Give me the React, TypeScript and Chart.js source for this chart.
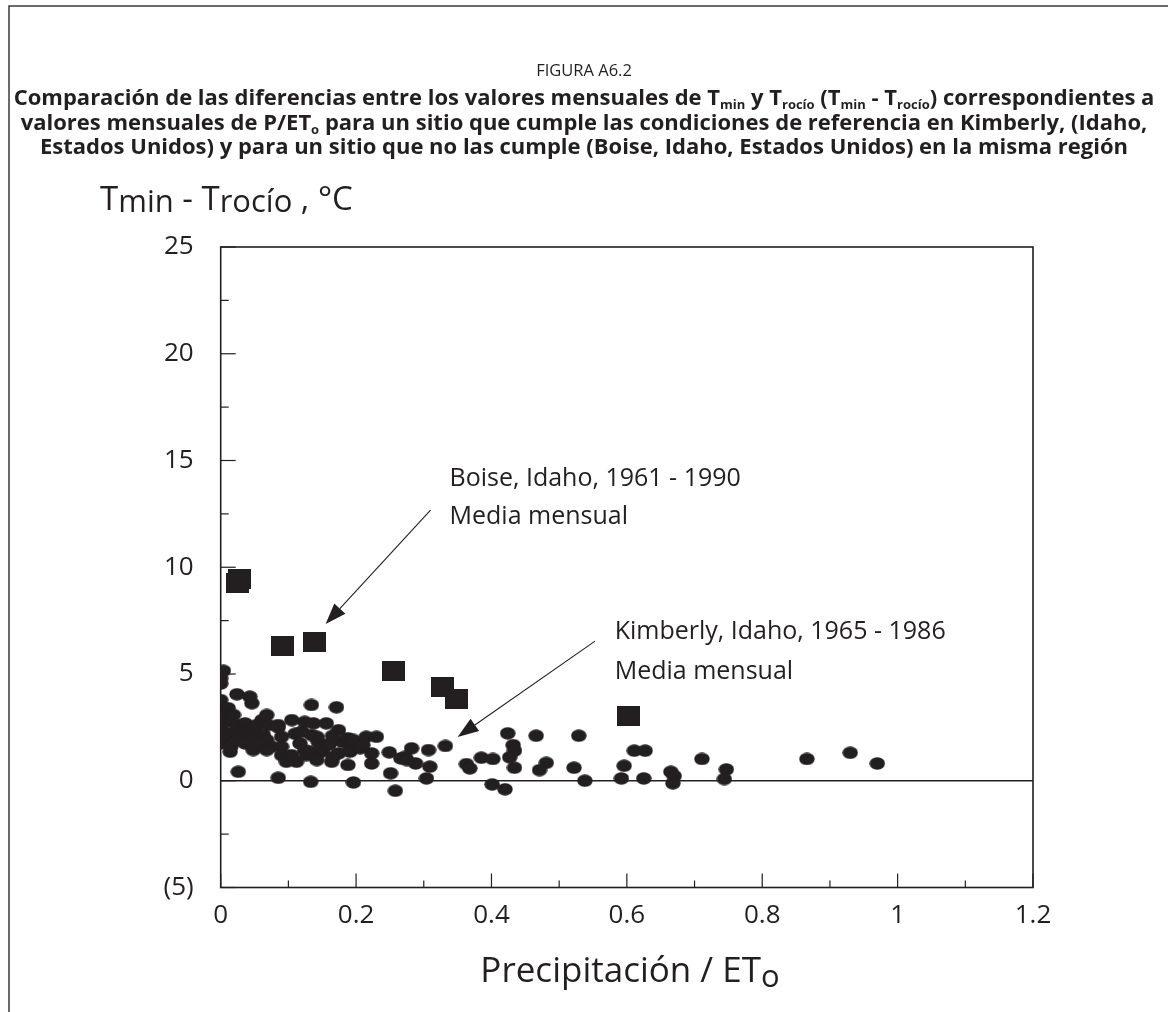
import React, { useEffect, useRef } from "react";
import { Chart, registerables } from "chart.js";

Chart.register(...registerables);

const INK = "#231f20";
const FONT = '"Open Sans", "Noto Sans", sans-serif';

// ---------- data ----------
// Kimberly, Idaho, 1965-1986 (monthly means): [P/ETo, Tmin - Tdew]
const kimberlyPoints: [number, number][] = [
  [0.004, 5.15], [0.0, 4.8], [0.0, 4.55], [0.0, 3.78], [0.0, 3.4], [0.011, 3.4], [0.004, 3.1], [0.0, 2.95],
  [0.012, 2.8], [0.0, 2.6], [0.0, 2.45], [0.009, 2.15], [0.005, 2.0], [0.0, 1.75], [0.014, 1.36], [0.015, 1.6],
  [0.024, 4.05], [0.043, 3.94], [0.046, 3.63], [0.019, 3.08], [0.024, 2.61], [0.036, 2.69], [0.03, 2.4], [0.02, 2.3],
  [0.036, 2.22], [0.045, 2.0], [0.026, 1.91], [0.036, 1.75], [0.048, 1.44], [0.026, 0.42],
  [0.053, 2.61], [0.051, 2.45], [0.061, 2.84], [0.068, 3.08], [0.07, 2.61], [0.063, 2.14], [0.068, 1.91], [0.058, 1.7],
  [0.075, 1.6], [0.068, 1.44], [0.085, 2.61], [0.085, 2.5], [0.09, 2.06], [0.09, 1.59], [0.09, 1.2], [0.097, 0.89], [0.085, 0.14],
  [0.105, 2.84], [0.11, 2.2], [0.112, 0.89], [0.105, 1.2], [0.117, 1.75], [0.124, 1.44], [0.12, 2.3], [0.124, 2.76],
  [0.127, 1.2], [0.134, 3.55], [0.134, 2.14], [0.137, 2.69], [0.142, 2.06], [0.144, 1.83], [0.134, 1.36], [0.149, 1.36],
  [0.142, 0.97], [0.133, -0.05], [0.151, 1.52],
  [0.156, 2.69], [0.171, 3.44], [0.174, 2.37], [0.179, 1.83], [0.165, 2.1], [0.16, 1.7], [0.164, 0.89], [0.166, 1.12],
  [0.174, 1.28], [0.188, 1.99], [0.188, 0.74], [0.191, 1.52], [0.191, 1.36], [0.196, 1.91], [0.196, -0.08],
  [0.206, 1.52], [0.21, 1.67], [0.215, 2.06], [0.23, 2.06], [0.223, 1.28], [0.223, 0.81], [0.249, 1.33], [0.251, 0.35],
  [0.258, -0.47], [0.266, 1.05], [0.272, 1.12], [0.282, 1.52], [0.288, 0.81], [0.275, 0.97],
  [0.307, 1.44], [0.309, 0.66], [0.304, 0.11], [0.332, 1.63], [0.363, 0.78], [0.368, 0.58], [0.385, 1.08], [0.402, 1.02],
  [0.401, -0.17], [0.42, -0.4],
  [0.424, 2.22], [0.432, 1.67], [0.434, 1.41], [0.427, 1.1], [0.434, 0.61], [0.466, 2.11], [0.481, 0.84], [0.471, 0.5],
  [0.529, 2.11], [0.522, 0.61], [0.538, 0.0], [0.596, 0.7], [0.592, 0.11], [0.611, 1.41], [0.627, 1.41], [0.625, 0.11],
  [0.665, 0.42], [0.67, 0.22], [0.668, -0.12], [0.711, 1.02], [0.747, 0.53], [0.744, 0.08], [0.866, 1.02], [0.93, 1.31],
  [0.97, 0.81],
];

// Boise, Idaho, 1961-1990 (monthly means)
const boisePoints: [number, number][] = [
  [0.025, 9.25], [0.028, 9.45], [0.092, 6.3], [0.139, 6.5], [0.256, 5.15], [0.327, 4.4], [0.348, 3.85], [0.603, 3.05],
];

const xRange = [0, 1.2];
const yRange = [-5, 25];
const xTickStep = 0.1;
const yTickStep = 2.5;

// ---------- text ----------
type Seg = [string, boolean?];
const titleCaption = "FIGURA A6.2";
const titleLines: Seg[][] = [
  [["Comparación de las diferencias entre los valores mensuales de T"], ["min", true], [" y T"], ["rocío", true], [" (T"], ["min", true], [" - T"], ["rocío", true], [") correspondientes a"]],
  [["valores mensuales de P/ET"], ["o", true], [" para un sitio que cumple las condiciones de referencia en Kimberly, (Idaho,"]],
  [["Estados Unidos) y para un sitio que no las cumple (Boise, Idaho, Estados Unidos) en la misma región"]],
];
const yTitle: Seg[] = [["T"], ["min", true], [" - T"], ["rocío", true], [" , °C"]];
const xTitle: Seg[] = [["Precipitación / ET"], ["o", true]];

const annotations = [
  { lines: ["Boise, Idaho, 1961 - 1990", "Media mensual"], x: 0.338, y: [13.8, 12.03], from: [0.31, 12.68], to: [0.155, 7.34] },
  { lines: ["Kimberly, Idaho, 1965 - 1986", "Media mensual"], x: 0.582, y: [6.64, 4.76], from: [0.553, 6.54], to: [0.35, 2.05] },
];

function drawRich(
  ctx: CanvasRenderingContext2D, segs: Seg[], x: number, y: number, align: "left" | "center",
  size: number, subSize: number, subDy: number, weight: string
) {
  const fMain = `${weight} ${size}px ${FONT}`;
  const fSub = `${weight} ${subSize}px ${FONT}`;
  let w = 0;
  for (const [t, sub] of segs) {
    ctx.font = sub ? fSub : fMain;
    w += ctx.measureText(t).width;
  }
  let cx = align === "center" ? x - w / 2 : x;
  ctx.textAlign = "left";
  ctx.textBaseline = "alphabetic";
  for (const [t, sub] of segs) {
    ctx.font = sub ? fSub : fMain;
    ctx.fillText(t, cx, sub ? y + subDy : y);
    cx += ctx.measureText(t).width;
  }
}

function makeEllipse(w: number, h: number) {
  const c = document.createElement("canvas");
  c.width = w;
  c.height = h;
  const g = c.getContext("2d")!;
  g.fillStyle = INK;
  g.beginPath();
  g.ellipse(w / 2, h / 2, w / 2 - 0.3, h / 2 - 0.3, 0, 0, Math.PI * 2);
  g.fill();
  return c;
}
function makeRect(w: number, h: number) {
  const c = document.createElement("canvas");
  c.width = w;
  c.height = h;
  const g = c.getContext("2d")!;
  g.fillStyle = INK;
  g.fillRect(0, 0, w, h);
  return c;
}

const decor = {
  id: "decor",
  beforeDatasetsDraw(chart: any) {
    const { ctx, chartArea: a, scales } = chart;
    const x = scales.x, y = scales.y;
    ctx.save();
    ctx.strokeStyle = INK;
    ctx.lineWidth = 1.5;
    const seg = (x1: number, y1: number, x2: number, y2: number) => {
      ctx.beginPath();
      ctx.moveTo(x1, y1);
      ctx.lineTo(x2, y2);
      ctx.stroke();
    };
    const y0 = y.getPixelForValue(0);
    seg(a.left, y0, a.right, y0);
    ctx.lineWidth = 1.2;
    y.ticks.forEach((t: any) => {
      const p = y.getPixelForValue(t.value);
      const major = t.label !== "";
      seg(a.left, p, a.left + (major ? 15 : 8), p);
    });
    x.ticks.forEach((t: any) => {
      const p = x.getPixelForValue(t.value);
      const major = t.label !== "";
      seg(p, a.bottom, p, a.bottom - (major ? 14 : 7));
    });
    ctx.lineWidth = 1.6;
    ctx.strokeRect(a.left, a.top, a.right - a.left, a.bottom - a.top);
    ctx.restore();
  },
  afterDraw(chart: any) {
    const { ctx, scales } = chart;
    const x = scales.x, y = scales.y;
    ctx.save();
    // outer frame (top and left)
    ctx.strokeStyle = "#3a3a3a";
    ctx.lineWidth = 1.5;
    ctx.beginPath();
    ctx.moveTo(9, 1012);
    ctx.lineTo(9, 6);
    ctx.lineTo(1168, 6);
    ctx.stroke();

    ctx.fillStyle = INK;
    drawRich(ctx, [[titleCaption]], 584, 76, "center", 16.5, 16.5, 0, "400");
    titleLines.forEach((ln, i) => drawRich(ctx, ln, 584, 105 + i * 24.5, "center", 22, 13, 4, "700"));

    // axis titles
    drawRich(ctx, yTitle, 100, 210, "left", 33, 31, 2, "400");
    drawRich(ctx, xTitle, 630, 982, "center", 35, 31, 5, "400");

    // annotations
    ctx.strokeStyle = INK;
    ctx.fillStyle = INK;
    ctx.lineWidth = 1.1;
    annotations.forEach((an) => {
      const tx = x.getPixelForValue(an.x);
      an.lines.forEach((s, i) => drawRich(ctx, [[s]], tx, y.getPixelForValue(an.y[i]), "left", 25, 25, 0, "400"));
      const x1 = x.getPixelForValue(an.from[0]), y1 = y.getPixelForValue(an.from[1]);
      const x2 = x.getPixelForValue(an.to[0]), y2 = y.getPixelForValue(an.to[1]);
      const ang = Math.atan2(y2 - y1, x2 - x1);
      const L = 21, W = 7.5;
      const bx = x2 - L * Math.cos(ang), by = y2 - L * Math.sin(ang);
      ctx.beginPath();
      ctx.moveTo(x1, y1);
      ctx.lineTo(bx, by);
      ctx.stroke();
      ctx.beginPath();
      ctx.moveTo(x2, y2);
      ctx.lineTo(bx + W * Math.sin(ang), by - W * Math.cos(ang));
      ctx.lineTo(bx - W * Math.sin(ang), by + W * Math.cos(ang));
      ctx.closePath();
      ctx.fill();
    });
    ctx.restore();
  },
};

export default function App() {
  const ref = useRef<HTMLCanvasElement>(null);
  useEffect(() => {
    if (!ref.current) return;
    const ellipse = makeEllipse(16, 13);
    const rect = makeRect(23, 20);
    const chart = new Chart(ref.current, {
      type: "scatter",
      data: {
        datasets: [
          {
            label: "Kimberly, Idaho, 1965 - 1986",
            data: kimberlyPoints.map(([px, py]) => ({ x: px, y: py })),
            pointStyle: ellipse as any,
            backgroundColor: INK,
            borderColor: INK,
          },
          {
            label: "Boise, Idaho, 1961 - 1990",
            data: boisePoints.map(([px, py]) => ({ x: px, y: py })),
            pointStyle: rect as any,
            backgroundColor: INK,
            borderColor: INK,
          },
        ],
      },
      options: {
        animation: false,
        responsive: false,
        devicePixelRatio: 1,
        layout: { padding: { top: 247, right: 135, left: 0, bottom: 0 }, autoPadding: false },
        plugins: { legend: { display: false }, tooltip: { enabled: false }, title: { display: false } },
        scales: {
          x: {
            type: "linear",
            min: xRange[0],
            max: xRange[1],
            grid: { display: false, drawTicks: false },
            border: { display: false },
            afterFit: (s: any) => { s.height = 124.5; },
            ticks: {
              stepSize: xTickStep,
              autoSkip: false,
              maxRotation: 0,
              padding: 12,
              color: INK,
              font: { family: FONT, size: 26 },
              callback: (v: any) => {
                const n = Number(v);
                const r = Math.round(n / 0.2);
                return Math.abs(n / 0.2 - r) < 1e-6 ? String(Math.round(n * 10) / 10) : "";
              },
            },
          },
          y: {
            type: "linear",
            min: yRange[0],
            max: yRange[1],
            grid: { display: false, drawTicks: false },
            border: { display: false },
            afterFit: (s: any) => { s.width = 220.7; },
            ticks: {
              stepSize: yTickStep,
              autoSkip: false,
              padding: 27,
              color: INK,
              font: { family: FONT, size: 26 },
              callback: (v: any) => {
                const n = Number(v);
                if (Math.abs(n % 5) > 1e-6) return "";
                return n < 0 ? `(${-n})` : String(n);
              },
            },
          },
        },
      },
      plugins: [decor],
    });
    return () => chart.destroy();
  }, []);
  return (
    <div style={{ position: "absolute", left: 0, top: 0, width: 1168, height: 1012, background: "#fff" }}>
      <canvas ref={ref} width={1168} height={1012} style={{ width: 1168, height: 1012, display: "block" }} />
    </div>
  );
}
